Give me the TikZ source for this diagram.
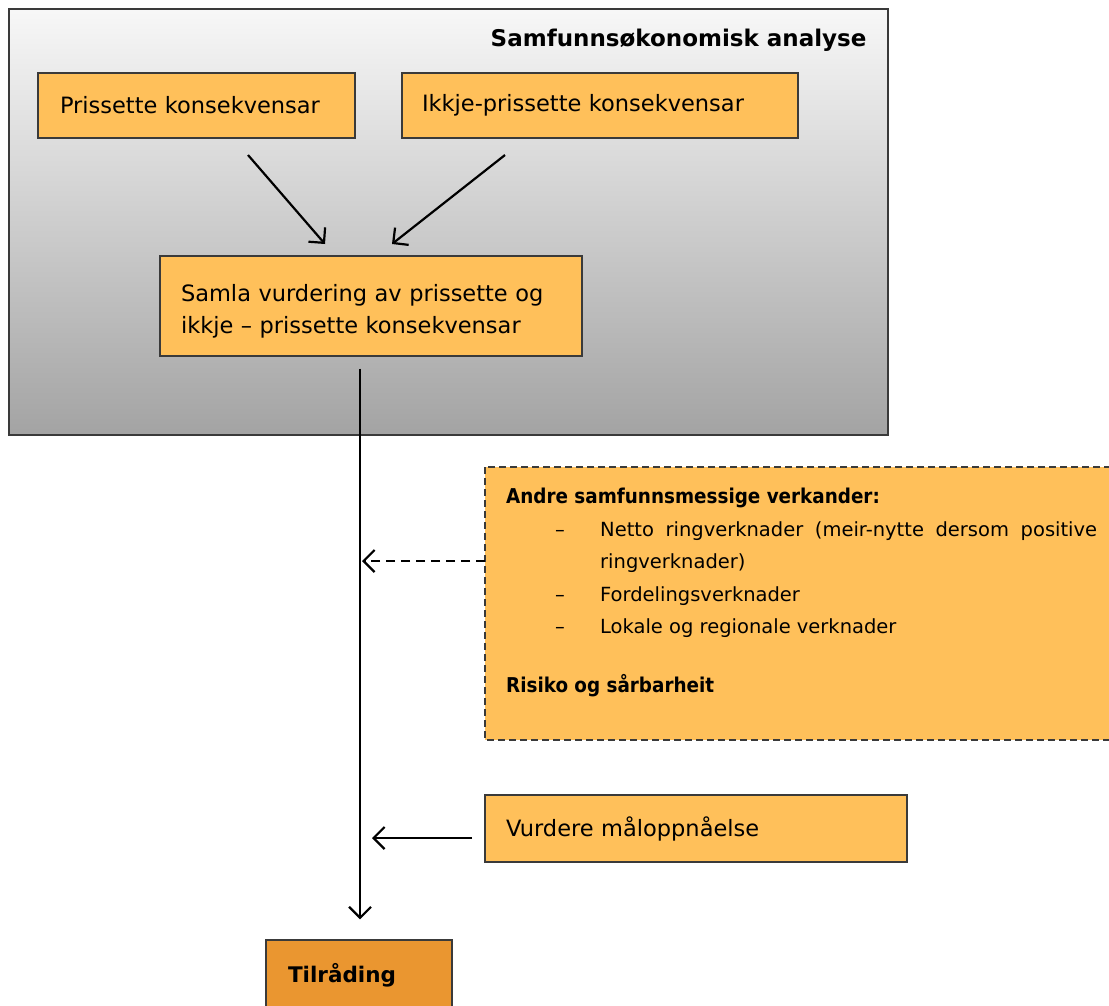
\documentclass[tikz,border=0pt]{standalone}
\usepackage{fontspec}
\setmainfont{DejaVu Sans}
\newfontfamily\condfont{DejaVu Sans Condensed}
\usetikzlibrary{arrows.meta}
\definecolor{boxorange}{HTML}{FFC05A}
\definecolor{darkorange}{HTML}{EA9630}
\definecolor{framegray}{HTML}{3A3A3A}
\tikzset{
  obox/.style={draw=framegray, line width=1.3pt, fill=boxorange, align=left,
    inner ysep=0pt, font=\fontsize{22.5}{32}\selectfont},
  conn/.style={line width=2.2pt, -{Straight Barb[length=11pt,width=22pt,line width=2.2pt]}},
}
\begin{document}
\begin{tikzpicture}[x=1pt,y=-1pt]
\useasboundingbox (0,0) rectangle (1109,1005);
\clip (0,0) rectangle (1109,1005);
% gray frame
\path[draw=framegray, line width=1.3pt, top color=white!97!black, bottom color=black!36]
  (9,9) rectangle (888,435);
\node[anchor=east, font=\fontsize{23}{27}\selectfont\bfseries] (title) at (870,40) {Samfunnsøkonomisk analyse};
% boxes
\node[obox, text width=273pt, inner xsep=22pt, minimum height=65pt] (b1) at (196.5,105.5) {Prissette konsekvensar};
\node[obox, text width=356pt, inner xsep=20pt, minimum height=65pt] (b2) at (600,105.5) {Ikkje-prissette konsekvensar};
\node[obox, text width=380pt, inner xsep=21pt, minimum height=100pt] (b3) at (371,306) {\rule{0pt}{27pt}Samla vurdering av prissette og\\ ikkje -- prissette konsekvensar};
\node[obox, text width=380pt, inner xsep=21pt, minimum height=67pt] (b4) at (696,828.5) {Vurdere måloppnåelse};
\node[obox, fill=darkorange, text width=142pt, inner xsep=22pt, minimum height=70pt, font=\fontsize{21.5}{25}\selectfont\bfseries] (b5) at (359,975) {Tilråding};
% dashed box
\path[draw=framegray, line width=1.3pt, dashed, dash pattern=on 7pt off 4pt, fill=boxorange] (485,467) rectangle (1130,740);
\node[anchor=north west, inner sep=0pt, align=left, font=\fontsize{19.5}{32.5}\selectfont] (b6) at (506,488)
{{\condfont\fontsize{20.4}{32.5}\selectfont\bfseries Andre samfunnsmessige verkander:}\\
\makebox[94pt][l]{\hspace*{49pt}--}\makebox[497pt][s]{Netto ringverknader (meir-nytte dersom positive}\\
\hspace*{94pt}ringverknader)\\
\makebox[94pt][l]{\hspace*{49pt}--}Fordelingsverknader\\
\makebox[94pt][l]{\hspace*{49pt}--}Lokale og regionale verknader\\[26.5pt]
{\condfont\fontsize{20.4}{32.5}\selectfont\bfseries Risiko og sårbarheit}};
% connectors
\coordinate (a1s) at (248,155);
\coordinate (a1e) at (325,244);
\coordinate (a2s) at (505,155);
\coordinate (a2e) at (392,244);
\coordinate (join) at (362,561);
\coordinate (ds) at (485,561);
\coordinate (vs) at (472,838);
\coordinate (join2) at (372,838);
\draw[conn] (a1s) -- (a1e);
\draw[conn] (a2s) -- (a2e);
\draw[conn, shorten <=12pt, shorten >=20pt] (b3.south -| 360,0) -- (b5.north -| 360,0);
\draw[conn, dashed, dash pattern=on 9pt off 6pt] (ds) -- (join);
\draw[conn] (vs) -- (join2);
\end{tikzpicture}
\end{document}
